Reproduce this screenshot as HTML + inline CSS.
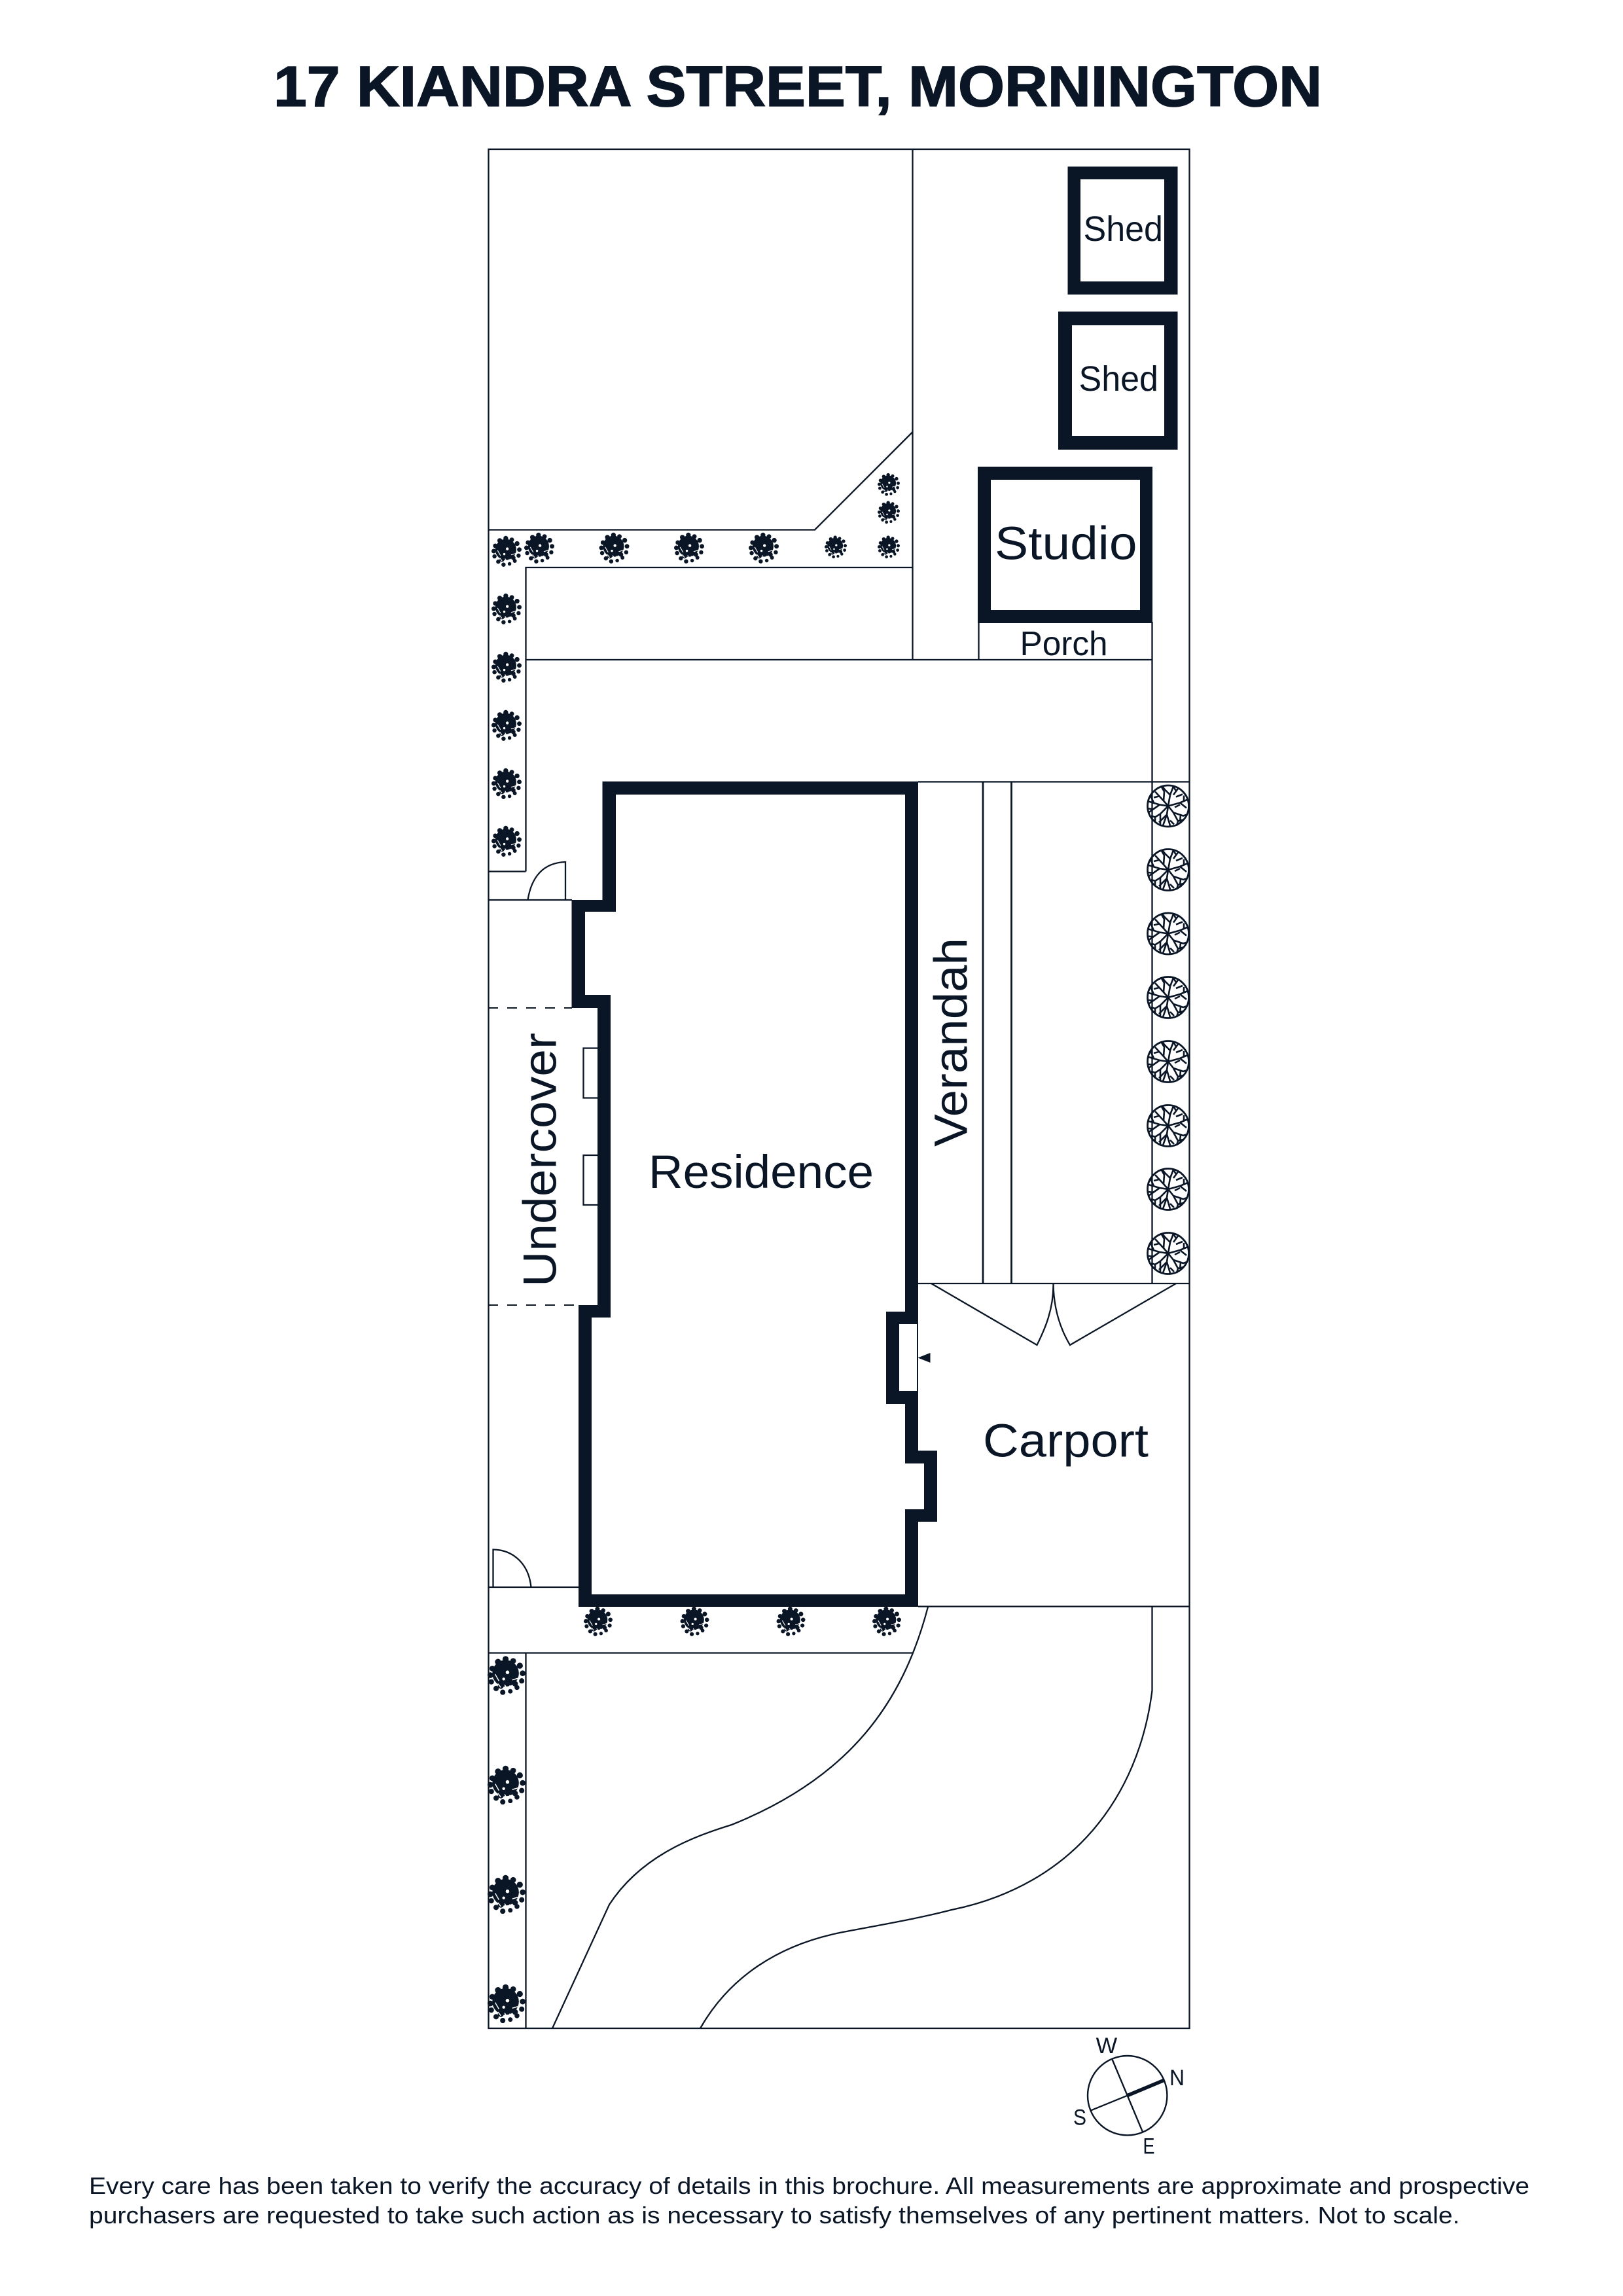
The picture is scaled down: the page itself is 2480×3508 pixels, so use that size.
<!DOCTYPE html>
<html lang="en">
<head>
<meta charset="utf-8">
<title>17 Kiandra Street, Mornington</title>
<style>
html,body{margin:0;padding:0;background:#fff}
svg{display:block}
text{font-family:"Liberation Sans",sans-serif;fill:#0a1626}
</style>
</head>
<body>
<svg xmlns="http://www.w3.org/2000/svg" width="2480" height="3508" viewBox="0 0 2480 3508">
<defs>
<g id="b" fill="#0a1626">
  <circle cx="-1" cy="-2" r="14"/>
  <circle cx="-15" cy="-7" r="3"/><circle cx="-9" cy="-14" r="3.2"/><circle cx="-1" cy="-17" r="3.2"/><circle cx="7" cy="-15" r="3"/><circle cx="14" cy="-10" r="3.2"/>
  <circle cx="17" cy="-2" r="3"/><circle cx="16" cy="6" r="2.8"/><circle cx="11" cy="13" r="2.6"/><circle cx="4" cy="17" r="2.4"/><circle cx="-4" cy="18" r="2.8"/>
  <circle cx="-11" cy="14" r="2.8"/><circle cx="-16" cy="7" r="2.8"/><circle cx="-17" cy="0" r="3"/><circle cx="9" cy="9" r="3"/><circle cx="-6" cy="11" r="3.2"/>
  <circle cx="1" cy="-3" r="1.9" fill="#fff"/>
  <circle cx="-3" cy="4" r="1.5" fill="#fff"/>
  <path d="M-12 -1L-8 6M6 5L13 3M3 11L8 13M-9 9L-6 13M-2 10L1 15" stroke="#fff" stroke-width="1" fill="none"/>
</g>
<g id="r" fill="none" stroke="#0a1626" stroke-width="2.6">
  <circle r="31.5" stroke-width="2.8"/>
  <path d="M0 0L3 -17L8 -30M3 -17L-5 -25L-9 -30M8 -17L16 -28M8 -30L12 -23"/>
  <path d="M0 0L18 -5L30 -10M18 -5L28 3M12 -14L22 -18M18 -2L10 2M24 -8L24 -16"/>
  <path d="M0 0L8 10L15 23L13 30M8 10L23 15L29 13M15 23L23 21M19 14L18 24"/>
  <path d="M0 0L-2 13L-8 30M-2 13L3 30M-2 13L-14 25M3 22L9 28"/>
  <path d="M0 0L-13 -2L-30 -7M-13 -2L-23 5L-30 10M-22 -5L-27 -16M-23 5L-30 4"/>
  <path d="M0 0L-12 12L-12 30M-12 12L-20 17L-26 15M-20 17L-20 25"/>
  <path d="M0 0L-7 -8L-20 -22M-7 -8L-6 -22L-10 -29M-14 -15L-22 -13"/>
</g>
</defs>
<rect width="2480" height="3508" fill="#fff"/>

<text x="418" y="162" font-size="87" font-weight="700" stroke="#0a1626" stroke-width="1.6" textLength="1602" lengthAdjust="spacingAndGlyphs">17 KIANDRA STREET, MORNINGTON</text>

<g fill="none" stroke="#0a1626" stroke-width="2.3">
  <rect x="746.5" y="228" width="1071" height="2871"/>
  <path d="M1394.5 228V1008"/>
  <path d="M746 809.5H1245L1394.5 660"/>
  <path d="M803.5 1331.5V867H1394.5"/>
  <path d="M746 1331.5H803.5"/>
  <path d="M803.5 1008H1760.5"/>
  <path d="M1495.5 950V1008M1760.5 950V1961"/>
  <path d="M1403 1194.5H1817"/>
  <path d="M1502 1194V1961M1545.5 1194V1961" stroke-width="2.8"/>
  <path d="M1403 1961H1817"/>
  <path d="M1403 2454.5H1817"/>
  <path d="M746 1375H874"/>
  <path d="M746 2425H884"/>
  <path d="M746 2525.5H1394"/>
  <path d="M803.5 2525V3099"/>
  <path d="M864 1375V1317C830 1318 812 1340 806.5 1375"/>
  <path d="M753.5 2425V2367.5C785 2368 808 2390 811.5 2425"/>
  <path d="M746 1540H874" stroke-dasharray="15 14" stroke-width="2"/>
  <path d="M746 1994H884" stroke-dasharray="15 14" stroke-width="2"/>
  <path d="M913 1601.5H891.5V1677.5H913M913 1765H891.5V1841H913"/>
  <path d="M1423 1961L1584.5 2055C1597 2030 1610 2000 1609.5 1961C1610 2000 1620 2030 1635 2055L1797 1961"/>
  <path d="M1418 2455C1380 2600 1300 2715 1118 2788C1060 2806 980 2835 931 2910L844 3099"/>
  <path d="M1760.5 2454V2583C1740 2745 1640 2880 1454 2918C1400 2932 1340 2942 1283 2953C1190 2972 1115 3020 1070 3099"/>
</g>

<path fill="#0a1626" fill-rule="evenodd" d="M1631.5 254.5H1799.5V450H1631.5ZM1651 274V430H1779V274Z"/>
<path fill="#0a1626" fill-rule="evenodd" d="M1617 476H1799.5V687H1617ZM1638 497V666H1779V497Z"/>
<path fill="#0a1626" fill-rule="evenodd" d="M1494 713H1761V952H1494ZM1514 733V932H1742V733Z"/>

<path fill="#0a1626" fill-rule="evenodd" d="M920.5 1194H1403V2216.5H1432V2325H1403V2455H884V1994H913V1540H873.5V1375H920.5ZM941 1214V1393H894V1520H933V2013H904V2436H1383V2306H1412V2236H1383V2145H1354V2004H1383V1214Z"/>
<rect x="1374" y="2023" width="27" height="102" fill="#fff"/>
<path fill="#0a1626" d="M1402.5 2074.5L1421.5 2067V2082Z"/>

<g>
  <use href="#b" transform="translate(774 842) scale(1.15)"/>
  <use href="#b" transform="translate(824 837) scale(1.15)"/>
  <use href="#b" transform="translate(938.5 837) scale(1.15)"/>
  <use href="#b" transform="translate(1053 837) scale(1.15)"/>
  <use href="#b" transform="translate(1167 837) scale(1.15)"/>
  <use href="#b" transform="translate(1277 835.5) scale(.85)"/>
  <use href="#b" transform="translate(1358 835.5) scale(.85)"/>
  <use href="#b" transform="translate(1358 782.5) scale(.85)"/>
  <use href="#b" transform="translate(1358 740) scale(.85)"/>
  <use href="#b" transform="translate(774 930) scale(1.15)"/>
  <use href="#b" transform="translate(774 1019) scale(1.15)"/>
  <use href="#b" transform="translate(774 1108) scale(1.15)"/>
  <use href="#b" transform="translate(774 1197) scale(1.15)"/>
  <use href="#b" transform="translate(774 1285) scale(1.15)"/>
  <use href="#b" transform="translate(914 2477) scale(1.1)"/>
  <use href="#b" transform="translate(1061.5 2477) scale(1.1)"/>
  <use href="#b" transform="translate(1208.5 2477) scale(1.1)"/>
  <use href="#b" transform="translate(1355 2477) scale(1.1)"/>
  <use href="#b" transform="translate(774 2559.5) scale(1.45)"/>
  <use href="#b" transform="translate(774 2727) scale(1.45)"/>
  <use href="#b" transform="translate(774 2894) scale(1.45)"/>
  <use href="#b" transform="translate(774 3061) scale(1.45)"/>
</g>
<g>
  <use href="#r" x="1785" y="1231.5"/>
  <use href="#r" x="1785" y="1329"/>
  <use href="#r" x="1785" y="1426.5"/>
  <use href="#r" x="1785" y="1524"/>
  <use href="#r" x="1785" y="1622"/>
  <use href="#r" x="1785" y="1720"/>
  <use href="#r" x="1785" y="1817"/>
  <use href="#r" x="1785" y="1915"/>
</g>

<text x="1655.5" y="368" font-size="54" textLength="121.5" lengthAdjust="spacingAndGlyphs">Shed</text>
<text x="1648.5" y="597" font-size="54" textLength="121.5" lengthAdjust="spacingAndGlyphs">Shed</text>
<text x="1520" y="854.5" font-size="71" textLength="217.5" lengthAdjust="spacingAndGlyphs">Studio</text>
<text x="1558.5" y="1001" font-size="52" textLength="134" lengthAdjust="spacingAndGlyphs">Porch</text>
<text x="991" y="1815" font-size="71" textLength="344" lengthAdjust="spacingAndGlyphs">Residence</text>
<text x="1502" y="2225.5" font-size="71" textLength="253" lengthAdjust="spacingAndGlyphs">Carport</text>
<text transform="translate(1477.5 1752) rotate(-90)" font-size="71" textLength="319" lengthAdjust="spacingAndGlyphs">Verandah</text>
<text transform="translate(849.5 1966) rotate(-90)" font-size="71" textLength="388" lengthAdjust="spacingAndGlyphs">Undercover</text>

<g fill="none" stroke="#0a1626">
  <circle cx="1722.7" cy="3201.7" r="60.7" stroke-width="2.4"/>
  <path d="M1699.3 3146L1746 3257.3" stroke-width="2.4"/>
  <path d="M1667.3 3224.3L1722.7 3201.7" stroke-width="2.4"/>
  <path d="M1722.7 3201.7L1778.7 3178.3" stroke-width="5.5"/>
</g>
<text x="1674.7" y="3137" font-size="34" textLength="32.5" lengthAdjust="spacingAndGlyphs">W</text>
<text x="1787" y="3186" font-size="34" textLength="23" lengthAdjust="spacingAndGlyphs">N</text>
<text x="1640" y="3246.5" font-size="34" textLength="20" lengthAdjust="spacingAndGlyphs">S</text>
<text x="1746.5" y="3290.5" font-size="34" textLength="18" lengthAdjust="spacingAndGlyphs">E</text>

<text x="136" y="3352" font-size="36" textLength="2201" lengthAdjust="spacingAndGlyphs">Every care has been taken to verify the accuracy of details in this brochure. All measurements are approximate and prospective</text>
<text x="136" y="3397" font-size="36" textLength="2094.5" lengthAdjust="spacingAndGlyphs">purchasers are requested to take such action as is necessary to satisfy themselves of any pertinent matters. Not to scale.</text>
</svg>
</body>
</html>
